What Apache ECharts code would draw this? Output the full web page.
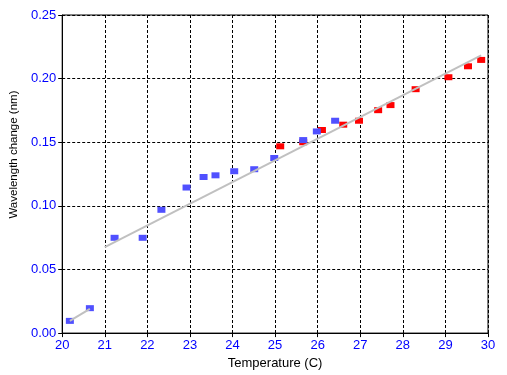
<!DOCTYPE html>
<html>
<head>
<meta charset="utf-8">
<script src="https://cdn.jsdelivr.net/npm/echarts@6/dist/echarts.min.js"></script>
<style>
html,body{margin:0;padding:0;background:#fff;}
#c{width:507px;height:375px;}
</style>
</head>
<body>
<div id="c"></div>
<script>
// Blue series (temperature C, wavelength change nm)
var blueT = [20.18, 20.65, 21.23, 21.89, 22.33, 22.92, 23.32, 23.60, 24.04, 24.51, 24.98, 25.66, 25.98, 26.41];
var blueV = [0.0096, 0.0196, 0.0749, 0.0749, 0.0969, 0.1144, 0.1227, 0.1240, 0.1272, 0.1288, 0.1376, 0.1517, 0.1585, 0.1669];
// Red series
var redT = [25.12, 25.66, 26.10, 26.60, 26.97, 27.42, 27.71, 28.30, 29.07, 29.53, 29.84];
var redV = [0.1468, 0.1500, 0.1596, 0.1638, 0.1669, 0.1752, 0.1792, 0.1917, 0.2011, 0.2097, 0.2147];
// Fit lines (endpoints)
var fit1T = [20.18, 20.65];
var fit1V = [0.0096, 0.0190];
var fit2T = [21.0, 29.84];
var fit2V = [0.0676, 0.2183];
// Axis ticks
var xTicks = [20, 21, 22, 23, 24, 25, 26, 27, 28, 29, 30];
var yTicks = [0.00, 0.05, 0.10, 0.15, 0.20, 0.25];

function zip(a, b) { return a.map(function (v, i) { return [v, b[i]]; }); }

var chart = echarts.init(document.getElementById('c'), null, {renderer: 'canvas'});
var font = 'Liberation Sans, Arial, sans-serif';
chart.setOption({
  animation: false,
  backgroundColor: '#fff',
  grid: {left: 61, right: 19, top: 15, bottom: 41, show: true, borderColor: '#000', borderWidth: 1, backgroundColor: 'transparent'},
  xAxis: {
    type: 'value', min: xTicks[0], max: xTicks[xTicks.length - 1], interval: 1,
    name: 'Temperature (C)', nameLocation: 'middle', nameGap: 20,
    nameTextStyle: {color: '#000', fontSize: 13, fontFamily: font},
    axisLine: {show: true, lineStyle: {color: '#000', width: 1}},
    axisTick: {show: true, length: 4, lineStyle: {color: '#000'}},
    axisLabel: {color: '#0000ff', fontSize: 13, fontFamily: font, margin: 6},
    splitLine: {show: true, lineStyle: {color: '#000', type: [3, 2], width: 1}}
  },
  yAxis: {
    type: 'value', min: yTicks[0], max: yTicks[yTicks.length - 1], interval: 0.05,
    name: 'Wavelength change (nm)', nameLocation: 'middle', nameGap: 31,
    nameTextStyle: {color: '#000', fontSize: 11.5, fontFamily: font, padding: [0, 0, 0, 39]},
    axisLine: {show: true, lineStyle: {color: '#000', width: 1}},
    axisTick: {show: true, length: 4, lineStyle: {color: '#000'}},
    axisLabel: {color: '#0000ff', fontSize: 13, fontFamily: font, margin: 6,
      formatter: function (v) { return v.toFixed(2); }},
    splitLine: {show: true, lineStyle: {color: '#000', type: [3, 2], width: 1}}
  },
  series: [
    {type: 'scatter', data: zip(blueT, blueV), symbol: 'rect', symbolSize: [8, 6],
      itemStyle: {color: '#5050ff', opacity: 1}, z: 3},
    {type: 'scatter', data: zip(redT, redV), symbol: 'rect', symbolSize: [8, 6],
      itemStyle: {color: '#ff0000', opacity: 1}, z: 2},
    {type: 'line', data: zip(fit1T, fit1V), symbol: 'none', lineStyle: {color: '#c0c0c0', width: 2}, z: 4},
    {type: 'line', data: zip(fit2T, fit2V), symbol: 'none', lineStyle: {color: '#c0c0c0', width: 2}, z: 4}
  ]
});
</script>
</body>
</html>
